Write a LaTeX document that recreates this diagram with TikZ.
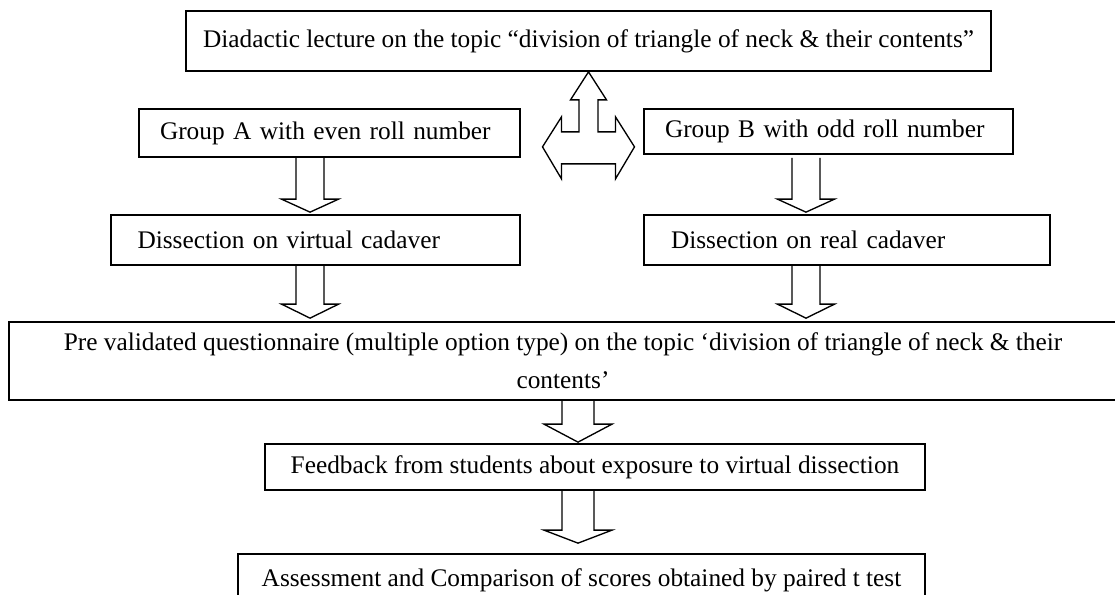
\documentclass[tikz,border=0pt]{standalone}
\usepackage{fontspec}
\setmainfont{Liberation Serif}
\usetikzlibrary{calc}

\tikzset{
  stepbox/.style={draw, line width=1.3pt, inner ysep=2pt,
    font=\fontsize{19}{28.5}\selectfont},
  fatdown/.style n args={3}{line width=1pt, to path={
    let \p1=(\tikztostart), \p2=(\tikztotarget) in
    (\x1-#1,\y1) -- (\x1-#1,\y2+#3) -- (\x1-#2,\y2+#3) -- (\x1,\y2)
    -- (\x1+#2,\y2+#3) -- (\x1+#1,\y2+#3) -- (\x1+#1,\y1)}},
}

\begin{document}
\begin{tikzpicture}[x=0.75pt, y=-0.75pt]
    \useasboundingbox (0,0) rectangle (1115,594);
    \clip (0,0) rectangle (1115,594);
    % boxes
    \node (lec) at (588.5,41) [stepbox, minimum width=603.75pt, minimum height=45pt]
        {Diadactic lecture on the topic “division of triangle of neck \& their contents”};
    \node (ga) at (329.5,133) [stepbox, text width=254.25pt, inner xsep=15.75pt, align=left, minimum height=36pt]
        {\mbox{Group A with even roll number}};
    \node (gb) at (828.5,131.5) [stepbox, text width=245.25pt, inner xsep=15.75pt, align=left, minimum height=33.75pt]
        {\mbox{Group B with odd roll number}};
    \node (vc) at (315.5,240) [stepbox, text width=267pt, inner xsep=19.9pt, align=left, minimum height=37.5pt]
        {Dissection on virtual cadaver};
    \node (rc) at (847,240) [stepbox, text width=264pt, inner xsep=20.25pt, align=left, minimum height=37.5pt]
        {Dissection on real cadaver};
    \node (fq) at (563,361) [stepbox, align=center, minimum width=831pt, minimum height=58.5pt]
        {Pre validated questionnaire (multiple option type) on the topic ‘division of triangle of neck \& their\\contents’};
    \node (fb) at (595,467) [stepbox, minimum width=495pt, minimum height=34.5pt]
        {Feedback from students about exposure to virtual dissection};
    \node (asm) at (581.5,580) [stepbox, minimum width=515.25pt, minimum height=39pt]
        {Assessment and Comparison of scores obtained by paired t test};
    % three way arrow
    \draw [line width=1pt, shift={(lec.south)}] (0,0) -- (18,28) -- (9.5,28) -- (9.5,60) -- (27,60)
        -- (27,45) -- (46,75) -- (27,107) -- (27,92) -- (-27,92) -- (-27,107) -- (-46,75)
        -- (-27,45) -- (-27,60) -- (-9.5,60) -- (-9.5,28) -- (-18,28) -- cycle;
    % down arrows
    \draw [fatdown={10.5pt}{21.4pt}{9.75pt}] ([xshift=-14.6pt]ga.south) to ([yshift=1.5pt]vc.north);
    \draw [fatdown={10.5pt}{21.4pt}{9.75pt}] ([xshift=-16.9pt,yshift=-2.25pt]gb.south) to ([yshift=1.5pt]rc.north);
    \draw [fatdown={10.5pt}{21.4pt}{10.5pt}] ([xshift=-4.1pt]vc.south) to ([yshift=2.25pt]fq.north);
    \draw [fatdown={10.5pt}{21.4pt}{10.5pt}] ([xshift=-30.75pt]rc.south) to ([yshift=2.25pt]fq.north);
    \draw [fatdown={12pt}{25.5pt}{13.5pt}] ([xshift=11.25pt]fq.south) to ([yshift=0.75pt]fb.north);
    \draw [fatdown={12pt}{25.5pt}{9.75pt}] ([xshift=-12.75pt]fb.south) to ([yshift=7.5pt]asm.north);
\end{tikzpicture}
\end{document}
